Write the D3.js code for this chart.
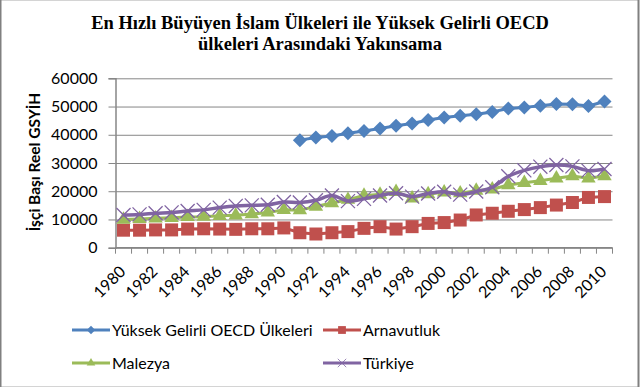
<!DOCTYPE html>
<html>
<head>
<meta charset="utf-8">
<script src="https://cdn.jsdelivr.net/npm/d3@7"></script>
<style>
  html, body { margin: 0; padding: 0; background: #fff; }
  svg { display: block; }
</style>
</head>
<body>
<div id="chart"></div>
<script>
const years = d3.range(1980, 2011);
const oecd = [null, null, null, null, null, null, null, null, null, null, null,
  38100, 39000, 39600, 40500, 41300, 42200, 43200, 44000, 45200, 46100,
  46700, 47300, 48100, 49300, 49700, 50300, 50900, 50800, 50200, 51800];
const albania = [6200, 6200, 6300, 6300, 6600, 6700, 6600, 6500, 6700, 6700,
  7000, 5300, 4850, 5300, 5700, 6850, 7450, 6600, 7450, 8600,
  8900, 9800, 11600, 12200, 12900, 13500, 14200, 15100, 16000, 17800, 18100];
const malaysia = [10000, 10200, 10400, 10600, 10900, 11000, 11300, 11500, 11900, 12500,
  13400, 13300, 14600, 15800, 17000, 18500, 18800, 19800, 17500, 19000,
  19600, 19300, 20200, 20700, 22200, 23000, 23700, 24600, 25400, 24600, 25400];
const turkey = [11600, 11800, 12200, 12500, 13000, 13400, 14200, 14800, 15000, 15200,
  16200, 16000, 16800, 18500, 16500, 17300, 18500, 19300, 18100, 19200,
  19800, 18800, 19900, 21400, 25300, 27400, 28700, 29300, 28800, 27300, 27900];
const yTicks = [0, 10000, 20000, 30000, 40000, 50000, 60000];
const labelYears = years.filter(y => y % 2 === 0);
const seriesNames = ['Yüksek Gelirli OECD Ülkeleri', 'Arnavutluk', 'Malezya', 'Türkiye'];
const titleLines = ['En Hızlı Büyüyen İslam Ülkeleri ile Yüksek Gelirli OECD',
  'ülkeleri Arasındaki Yakınsama'];
const yTitle = 'İşçi Başı Reel GSYİH';

const W = 640, H = 388;
const plotLeft = 115.5, plotRight = 612.5, plotTop = 78.3, plotBottom = 247.7;
const font = 'Lato, "Open Sans", sans-serif';
const gridColor = '#868686';

const svg = d3.select('#chart').append('svg')
    .attr('width', W)
    .attr('height', H);

// outer frame
svg.append('rect').attr('x', 0).attr('y', 0).attr('width', W).attr('height', H).attr('fill', '#fff');
svg.append('line').attr('x1', 0).attr('x2', 638).attr('y1', 0.5).attr('y2', 0.5).attr('stroke', '#d4d4d4');
svg.append('line').attr('x1', 0).attr('x2', 638).attr('y1', 386.5).attr('y2', 386.5).attr('stroke', '#d4d4d4');
svg.append('line').attr('x1', 0.75).attr('x2', 0.75).attr('y1', 0).attr('y2', 387).attr('stroke', '#808080').attr('stroke-width', 1.5);
svg.append('line').attr('x1', 638.5).attr('x2', 638.5).attr('y1', 0).attr('y2', 387).attr('stroke', '#808080').attr('stroke-width', 2);

// title
svg.append('text')
    .attr('x', 320).attr('y', 29)
    .attr('text-anchor', 'middle')
    .attr('font-family', '"Liberation Serif", "Times New Roman", serif')
    .attr('font-weight', 'bold')
    .attr('font-size', 18.5)
    .selectAll('tspan')
    .data(titleLines)
    .enter()
    .append('tspan')
    .attr('x', 320)
    .attr('dy', (d, i) => i === 0 ? 0 : 21)
    .text(d => d);

const x = d3.scaleBand().domain(years).range([plotLeft, plotRight]);
const y = d3.scaleLinear().domain([0, 60000]).range([plotBottom, plotTop]);

// gridlines
svg.append('g')
    .attr('transform', `translate(${plotLeft}, 0)`)
    .call(d3.axisLeft(y).tickValues(yTicks).tickSize(-(plotRight - plotLeft)).tickFormat(''))
    .call(g => g.select('.domain').remove())
    .selectAll('line').attr('stroke', gridColor);

// y axis
const yAxis = svg.append('g')
    .attr('transform', `translate(${plotLeft}, 0)`)
    .call(d3.axisLeft(y).tickValues(yTicks).tickSize(7).tickPadding(11).tickFormat(d3.format('d')));
yAxis.select('.domain').attr('stroke', gridColor).attr('stroke-width', 1.5);
yAxis.selectAll('line').attr('stroke', gridColor);
yAxis.selectAll('text')
    .attr('font-family', font)
    .attr('font-size', 16)
    .attr('fill', '#000');

svg.append('text')
    .attr('transform', `translate(40, 162) rotate(-90)`)
    .attr('text-anchor', 'middle')
    .attr('font-family', font)
    .attr('font-weight', 'bold')
    .attr('font-size', 15.5)
    .attr('fill', '#000')
    .text(yTitle);

// x axis: line and tick marks between categories
const xAxisG = svg.append('g').attr('transform', `translate(0, ${plotBottom})`);
xAxisG.append('line')
    .attr('x1', plotLeft).attr('x2', plotRight)
    .attr('stroke', gridColor).attr('stroke-width', 1.5);
xAxisG.selectAll('line.tick')
    .data(years.concat([null]))
    .enter()
    .append('line')
    .attr('class', 'tick')
    .attr('x1', d => d === null ? plotRight : x(d))
    .attr('x2', d => d === null ? plotRight : x(d))
    .attr('y1', 0).attr('y2', 6)
    .attr('stroke', gridColor);

const xLabels = svg.append('g')
    .attr('transform', `translate(0, ${plotBottom})`)
    .call(d3.axisBottom(x).tickValues(labelYears).tickSize(0));
xLabels.select('.domain').remove();
xLabels.selectAll('text')
    .attr('x', 0).attr('y', 0).attr('dy', 0)
    .attr('transform', 'translate(3, 25) rotate(-45)')
    .attr('text-anchor', 'end')
    .attr('font-family', font)
    .attr('font-size', 16)
    .attr('fill', '#000');

// series
const series = [
  { name: seriesNames[0], values: oecd, color: '#4F81BD', curve: d3.curveLinear, width: 3,
    marker: g => g.append('path').attr('d', d3.symbol().type(d3.symbolSquare).size(98)())
      .attr('transform', 'rotate(45)').attr('fill', '#4F81BD') },
  { name: seriesNames[1], values: albania, color: '#C0504D', curve: d3.curveLinear, width: 3,
    marker: g => g.append('path').attr('d', d3.symbol().type(d3.symbolSquare).size(169)()).attr('fill', '#C0504D') },
  { name: seriesNames[2], values: malaysia, color: '#9BBB59', curve: d3.curveLinear, width: 3,
    marker: g => g.append('path').attr('d', d3.symbol().type(d3.symbolTriangle).size(90)()).attr('fill', '#9BBB59') },
  { name: seriesNames[3], values: turkey, color: '#8064A2', curve: d3.curveCatmullRom, width: 3.5,
    marker: g => g.append('path').attr('d', d3.symbol().type(d3.symbolX).size(130)()).attr('fill', 'none')
      .attr('stroke', '#8064A2').attr('stroke-width', 1.3) }
];

const cx = d => x(d.year) + x.bandwidth() / 2;

series.forEach(s => {
  const pts = years.map((yr, i) => ({ year: yr, value: s.values[i] })).filter(d => d.value !== null);
  const line = d3.line().x(cx).y(d => y(d.value)).curve(s.curve);
  svg.append('path')
      .datum(pts)
      .attr('d', line)
      .attr('fill', 'none')
      .attr('stroke', s.color)
      .attr('stroke-width', s.width)
      .attr('stroke-linejoin', 'round');
  svg.append('g')
      .selectAll('g')
      .data(pts)
      .enter()
      .append('g')
      .attr('transform', d => `translate(${cx(d)}, ${y(d.value)})`)
      .each(function () { s.marker(d3.select(this)); });
});

// legend
const legendPos = [[72, 330], [323, 330], [72, 363], [323, 363]];
series.forEach((s, i) => {
  const [lx, ly] = legendPos[i];
  const g = svg.append('g').attr('transform', `translate(${lx}, ${ly})`);
  g.append('line')
      .attr('x1', 0).attr('x2', 38)
      .attr('stroke', s.color).attr('stroke-width', 3);
  const m = g.append('g').attr('transform', 'translate(19, 0) scale(0.6)');
  s.marker(m);
  g.append('text')
      .attr('x', 40).attr('y', 0).attr('dy', '0.35em')
      .attr('font-family', font)
      .attr('font-size', 16)
      .attr('fill', '#000')
      .text(s.name);
});
</script>
</body>
</html>
